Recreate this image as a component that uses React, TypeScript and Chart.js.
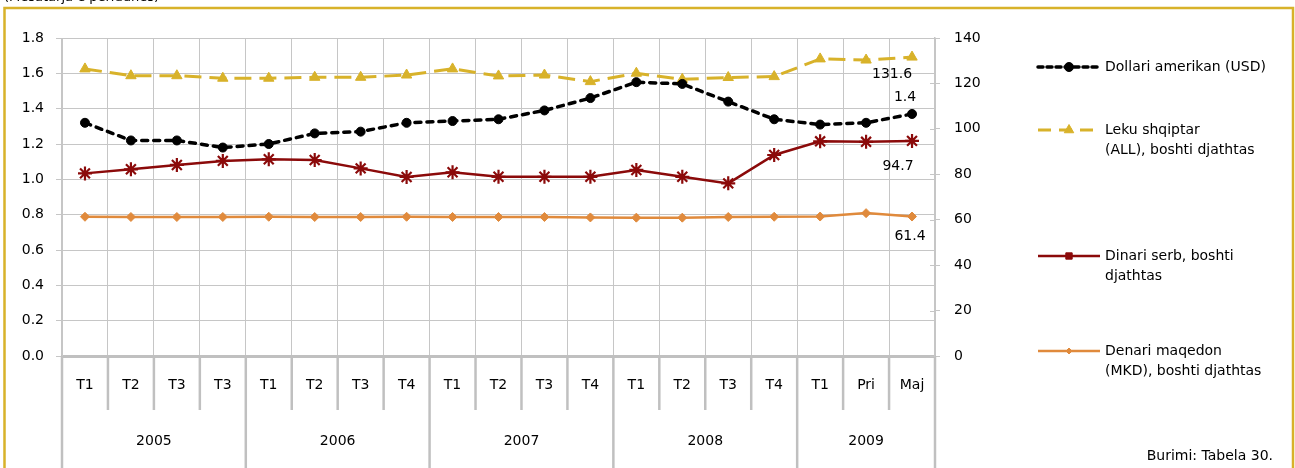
import React, { useEffect, useRef } from 'react';
import { Chart, registerables } from 'chart.js';
import { drawPoint } from 'chart.js/helpers';

Chart.register(...registerables);

const quarters = ['T1', 'T2', 'T3', 'T3', 'T1', 'T2', 'T3', 'T4', 'T1', 'T2', 'T3', 'T4', 'T1', 'T2', 'T3', 'T4', 'T1', 'Pri', 'Maj'];
const years = ['2005', '2006', '2007', '2008', '2009'];
const yearSpans = [4, 4, 4, 4, 3];

const usd = [1.32, 1.22, 1.22, 1.18, 1.2, 1.26, 1.27, 1.32, 1.33, 1.34, 1.39, 1.46, 1.55, 1.54, 1.44, 1.34, 1.31, 1.32, 1.37];
const all = [126.4, 123.4, 123.4, 122.3, 122.3, 122.7, 122.7, 123.7, 126.4, 123.3, 123.7, 120.8, 124.5, 121.8, 122.6, 123.0, 130.8, 130.3, 131.6];
const rsd = [80.4, 82.2, 84.1, 85.9, 86.6, 86.3, 82.6, 78.8, 80.9, 78.9, 78.9, 78.9, 81.9, 78.9, 76.0, 88.5, 94.5, 94.3, 94.7];
const mkd = [61.3, 61.2, 61.2, 61.2, 61.3, 61.2, 61.2, 61.3, 61.2, 61.2, 61.2, 61.0, 60.9, 60.9, 61.2, 61.3, 61.4, 62.9, 61.4];

const legendLabels = [
  ['Dollari amerikan (USD)'],
  ['Leku shqiptar', '(ALL), boshti djathtas'],
  ['Dinari serb, boshti', 'djathtas'],
  ['Denari maqedon', '(MKD), boshti djathtas'],
];
const titleText = '(Mesatarja e periudhës)';
const sourceText = 'Burimi: Tabela 30.';

const FONT = '"DejaVu Sans", sans-serif';
const GRID = '#C6C6C6';
const GOLD = '#D8B22A';

const legendY = [67, 130, 256, 351];
const legendMarker = [
  { style: 'circle', r: 4.5, bw: 1 },
  { style: 'triangle', r: 5.5, bw: 1 },
  { style: 'rect', r: 4.5, bw: 1 },
  { style: 'rectRot', r: 3, bw: 1 },
];
const labelOffsets = [
  [-7, -17],
  [-20, 17],
  [-14, 25],
  [-2, 20],
];

const extrasPlugin = {
  id: 'extras',
  afterDraw(chart: any) {
    const ctx = chart.ctx;
    const xs = chart.scales.x;
    const area = chart.chartArea;
    const n = quarters.length;
    const step = (area.right - area.left) / n;
    ctx.save();
    // frame
    ctx.strokeStyle = GOLD;
    ctx.lineWidth = 2.5;
    ctx.strokeRect(4.5, 8, 1288.5, 600);
    // top title (cut)
    ctx.fillStyle = '#000';
    ctx.font = '13px ' + FONT;
    ctx.textAlign = 'left';
    ctx.textBaseline = 'alphabetic';
    ctx.fillText(titleText, 4, 1);

    // category separators
    ctx.strokeStyle = '#C0C0C0';
    ctx.lineWidth = 2.5;
    const yearBounds: number[] = [0];
    let acc = 0;
    yearSpans.forEach((s) => { acc += s; yearBounds.push(acc); });
    for (let i = 0; i <= n; i++) {
      const bx = area.left + i * step;
      const isYear = yearBounds.includes(i);
      ctx.beginPath();
      ctx.moveTo(bx, area.bottom);
      ctx.lineTo(bx, isYear ? 470 : 410);
      ctx.stroke();
    }
    // right axis cross ticks (left half)
    const ys = chart.scales.y1;
    ctx.strokeStyle = GRID;
    ctx.lineWidth = 1;
    ys.ticks.forEach((t: any) => {
      const py = Math.round(ys.getPixelForValue(t.value)) + 0.5;
      ctx.beginPath();
      ctx.moveTo(area.right - 5, py);
      ctx.lineTo(area.right, py);
      ctx.stroke();
    });
    // quarter labels
    ctx.fillStyle = '#000';
    ctx.font = '14px ' + FONT;
    ctx.textAlign = 'center';
    ctx.textBaseline = 'middle';
    quarters.forEach((q, i) => {
      ctx.fillText(q, xs.getPixelForValue(i), 385);
    });
    // year labels
    years.forEach((y, k) => {
      const x0 = area.left + yearBounds[k] * step;
      const x1 = area.left + yearBounds[k + 1] * step;
      ctx.fillText(y, (x0 + x1) / 2, 441);
    });

    // data labels on last point
    chart.data.datasets.forEach((ds: any, di: number) => {
      const meta = chart.getDatasetMeta(di);
      const last = meta.data[meta.data.length - 1];
      const v = ds.data[ds.data.length - 1];
      ctx.fillText(Number(v).toFixed(1), last.x + labelOffsets[di][0], last.y + labelOffsets[di][1]);
    });

    // legend
    chart.data.datasets.forEach((ds: any, di: number) => {
      const y = legendY[di];
      ctx.save();
      ctx.strokeStyle = ds.borderColor;
      ctx.lineWidth = ds.borderWidth;
      ctx.setLineDash(ds.legendDash || ds.borderDash || []);
      ctx.lineCap = ds.borderCapStyle || 'butt';
      ctx.beginPath();
      ctx.moveTo(1038, y);
      ctx.lineTo(1100, y);
      ctx.stroke();
      ctx.setLineDash([]);
      ctx.lineCap = 'butt';
      ctx.fillStyle = ds.pointBackgroundColor;
      ctx.strokeStyle = ds.pointBorderColor;
      const m = legendMarker[di];
      ctx.lineWidth = m.bw;
      drawPoint(ctx, { pointStyle: m.style, radius: m.r, rotation: 0, borderWidth: m.bw }, 1069, y);
      ctx.restore();
      ctx.fillStyle = '#000';
      ctx.font = '14px ' + FONT;
      ctx.textAlign = 'left';
      ctx.textBaseline = 'middle';
      legendLabels[di].forEach((t, li) => {
        ctx.fillText(t, 1105, y + li * 20.5);
      });
    });

    // source
    ctx.textAlign = 'right';
    ctx.fillText(sourceText, 1273, 456);
    ctx.restore();
  },
};

export default function App() {
  const ref = useRef<HTMLCanvasElement | null>(null);
  useEffect(() => {
    if (!ref.current) return;
    Chart.defaults.font.family = FONT;
    Chart.defaults.font.size = 14;
    Chart.defaults.color = '#000';
    const chart = new Chart(ref.current, {
      type: 'line',
      data: {
        labels: quarters,
        datasets: [
          {
            label: 'Dollari amerikan (USD)',
            data: usd,
            yAxisID: 'y',
            borderColor: '#000',
            borderWidth: 3.5,
            borderDash: [6, 6],
            legendDash: [5, 4],
            borderCapStyle: 'round',
            pointStyle: 'circle',
            pointRadius: 4.5,
            pointBackgroundColor: '#000',
            pointBorderColor: '#000',
            pointBorderWidth: 1,
            tension: 0,
          },
          {
            label: 'Leku shqiptar (ALL), boshti djathtas',
            data: all,
            yAxisID: 'y1',
            borderColor: GOLD,
            borderWidth: 3,
            borderDash: [17, 8],
            legendDash: [13, 8],
            pointStyle: 'triangle',
            pointRadius: 6,
            pointBackgroundColor: GOLD,
            pointBorderColor: GOLD,
            pointBorderWidth: 1,
            tension: 0,
          },
          {
            label: 'Dinari serb, boshti djathtas',
            data: rsd,
            yAxisID: 'y1',
            borderColor: '#8B0A0A',
            borderWidth: 2.5,
            pointStyle: 'star',
            pointRadius: 7,
            pointBackgroundColor: '#8B0A0A',
            pointBorderColor: '#8B0A0A',
            pointBorderWidth: 2.2,
            tension: 0,
          },
          {
            label: 'Denari maqedon (MKD), boshti djathtas',
            data: mkd,
            yAxisID: 'y1',
            borderColor: '#E08A3C',
            borderWidth: 2.5,
            pointStyle: 'rectRot',
            pointRadius: 4.5,
            pointBackgroundColor: '#E08A3C',
            pointBorderColor: '#E08A3C',
            pointBorderWidth: 1,
            tension: 0,
          },
        ],
      },
      options: {
        responsive: false,
        animation: false,
        layout: { padding: { top: 38, left: 0, right: 0, bottom: 0 } },
        plugins: { legend: { display: false }, tooltip: { enabled: false } },
        scales: {
          x: {
            offset: true,
            grid: { offset: true, color: GRID, lineWidth: 1, drawTicks: false },
            border: { color: '#C0C0C0', width: 3 },
            ticks: { display: false },
            afterFit: (s: any) => { s.height = 112; },
          },
          y: {
            position: 'left',
            min: 0,
            max: 1.8,
            ticks: { stepSize: 0.2, padding: 12, callback: (v: any) => Number(v).toFixed(1), font: { size: 14 } },
            grid: { color: GRID, lineWidth: 1, tickLength: 6 },
            border: { color: GRID, width: 1 },
            afterFit: (s: any) => { s.width = 62; },
          },
          y1: {
            position: 'right',
            min: 0,
            max: 140,
            ticks: { stepSize: 20, padding: 14, font: { size: 14 } },
            grid: { drawOnChartArea: false, color: GRID, tickLength: 5 },
            border: { color: GRID, width: 1.5 },
            afterFit: (s: any) => { s.width = 360; },
          },
        },
      },
      plugins: [extrasPlugin],
    } as any);
    return () => chart.destroy();
  }, []);
  return (
    <div style={{ position: 'fixed', left: 0, top: 0, width: 1295, height: 468, background: '#fff' }}>
      <canvas ref={ref} width={1295} height={468} style={{ display: 'block', width: 1295, height: 468 }} />
    </div>
  );
}
